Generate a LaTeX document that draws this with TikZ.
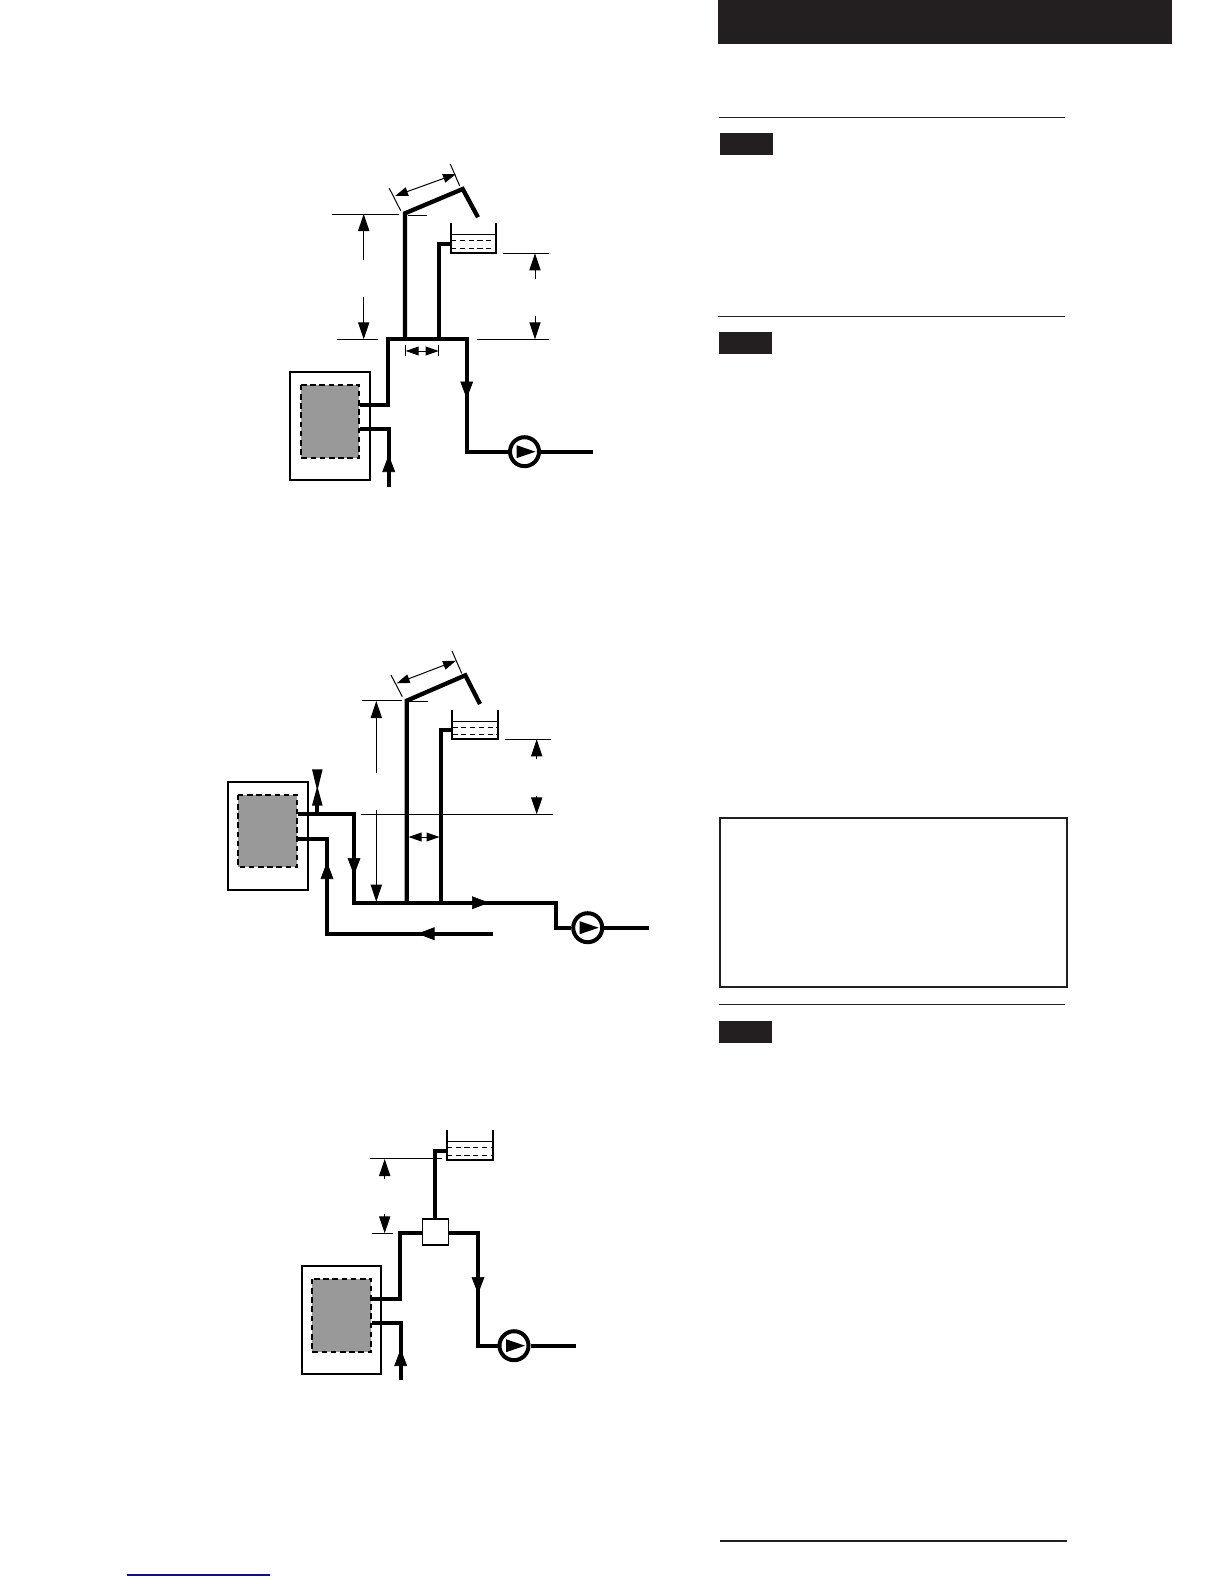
\documentclass[tikz,border=0pt]{standalone}
\usetikzlibrary{arrows.meta,calc}
\definecolor{ink}{HTML}{231F20}
\definecolor{coregray}{HTML}{999999}
\definecolor{linkblue}{HTML}{10107F}
\tikzset{
  pipe/.style={line width=2.15pt,draw=black},
  fine/.style={line width=0.5pt,draw=black},
  dimtip/.style={line width=0.5pt,draw=black,-{Triangle[length=8.5pt,width=5.6pt]}},
  dimboth/.style={line width=0.5pt,draw=black,{Triangle[length=6.5pt,width=4.4pt]}-{Triangle[length=6.5pt,width=4.4pt]}},
  flow/.style={line width=0.3pt,draw=black,-{Triangle[length=8.5pt,width=6.4pt]}},
  casing/.style={line width=0.9pt,draw=black},
  core/.style={line width=0.9pt,draw=black,dash pattern=on 2.8pt off 1.8pt,fill=coregray},
  tank/.style={line width=0.9pt,draw=black},
  water/.style={line width=0.4pt,draw=black},
  waterdash/.style={line width=0.4pt,draw=black,dash pattern=on 2.6pt off 1.8pt},
  pumpbody/.style={circle,draw=black,line width=2pt,fill=white,minimum size=14.5pt,inner sep=0pt},
  rulebar/.style={line width=0.6pt,draw=ink},
}
\newcommand{\pumptri}[1]{\fill[black] ($(#1)+(-8,-6.5)$) -- ($(#1)+(11,0)$) -- ($(#1)+(-8,6.5)$) -- cycle;}
\begin{document}
\begin{tikzpicture}[x=0.5pt,y=-0.5pt]
\useasboundingbox (0,0) rectangle (1224,1584);

% ---------- right column ----------
\fill[ink] (718,0) rectangle (1172,44);
\draw[rulebar] (719,117.3) -- (1065,117.3);
\fill[ink] (720,133) rectangle (773,155);
\draw[rulebar] (718,316.3) -- (1065,316.3);
\fill[ink] (719,332) rectangle (772,354);
\draw[line width=1.1pt,draw=ink] (720,818) rectangle (1067,987);
\draw[rulebar] (719,1004.3) -- (1065,1004.3);
\fill[ink] (719,1021) rectangle (772,1043);
\draw[rulebar] (720,1541) -- (1067,1541);
\draw[line width=0.7pt,draw=linkblue] (127,1575) -- (270,1575);

% ---------- diagram 1 ----------
\draw[casing] (290,371.7) rectangle (370,480);
\draw[core] (301,384.7) rectangle (359.3,458);
\node[pumpbody] (pumpA) at (524.5,451.7) {};
\pumptri{pumpA}
\coordinate (a1) at (360,405);
\coordinate (a2) at (360,429.3);
\draw[pipe] (a1) -- (387.7,405) -- (387.7,339.3) -- (466.7,339.3) -- (466.7,451.7) -- (pumpA.west);
\draw[pipe] (pumpA.east) -- (592.7,451.7);
\draw[pipe] (a2) -- (388.7,429.3) -- (388.7,486.7);
\draw[flow] (388.7,471) -- (388.7,455);
\draw[flow] (466.7,382) -- (466.7,398.5);
\draw[pipe] (405,339.3) -- (405,213.3) -- (462.7,189) -- (478,217.3);
\draw[pipe] (438.7,339.3) -- (438.7,244) -- (451,244);
\draw[tank] (451,223.3) -- (451,253) -- (496.3,253) -- (496.3,223.3);
\draw[water] (451,234.3) -- (496.3,234.3);
\draw[waterdash] (451,240.7) -- (496.3,240.7);
\draw[waterdash] (451,248.7) -- (496.3,248.7);
\draw[fine] (332,214) -- (399.3,214);
\draw[fine] (408,215.3) -- (426.7,215.3);
\draw[dimtip] (363.7,260) -- (363.7,214);
\draw[dimtip] (363.7,296.7) -- (363.7,339.3);
\draw[fine] (337,339.3) -- (377.7,339.3);
\draw[fine] (477,339.3) -- (548.7,339.3);
\draw[fine] (503,253.3) -- (548.7,253.3);
\draw[dimtip] (535,279.3) -- (535,253.3);
\draw[dimtip] (535,316) -- (535,339.3);
\draw[dimboth] (405.7,351) -- (438.7,351);
\draw[fine] (405.7,345) -- (405.7,356);
\draw[fine] (438.7,345) -- (438.7,356);
\draw[dimboth] (395,196) -- (456,174);
\draw[fine] (389.3,188.3) -- (400.7,210.7);
\draw[fine] (450.3,164) -- (459.7,186);

% ---------- diagram 2 ----------
\draw[casing] (227.7,781.7) rectangle (308.3,890);
\draw[core] (238.3,794.7) rectangle (297.3,867);
\node[pumpbody] (pumpB) at (587.7,927.7) {};
\pumptri{pumpB}
\draw[pipe] (298.3,814.3) -- (354,814.3) -- (354,902.7) -- (555.7,902.7) -- (555.7,927.7) -- (pumpB.west);
\draw[pipe] (pumpB.east) -- (649.3,927.7);
\draw[pipe] (297.3,839) -- (327,839) -- (327,933.7) -- (492.7,933.7);
\draw[flow] (354,859) -- (354,875);
\draw[flow] (472,902.7) -- (489,902.7);
\draw[flow] (327,878) -- (327,862);
\draw[flow] (434,933.7) -- (417.5,933.7);
\draw[pipe] (317.3,814.3) -- (317.3,800);
\fill[black] (312,769.3) -- (322.6,769.3) -- (317.3,791) -- cycle;
\fill[black] (312,805.5) -- (322.6,805.5) -- (317.3,786) -- cycle;
\draw[pipe] (406.7,902.7) -- (406.7,700.7) -- (465.3,675.3) -- (480,704);
\draw[pipe] (440.7,902.7) -- (440.7,730) -- (452.3,730);
\draw[tank] (452.3,710.3) -- (452.3,739) -- (498,739) -- (498,710.3);
\draw[water] (452.3,721.3) -- (498,721.3);
\draw[waterdash] (452.3,727.3) -- (498,727.3);
\draw[waterdash] (452.3,734.3) -- (498,734.3);
\draw[fine] (362,700.3) -- (401.7,700.3);
\draw[fine] (409,701) -- (427.7,701);
\draw[fine] (361,814.3) -- (553,814.3);
\draw[fine] (505.3,739) -- (550.7,739);
\draw[dimtip] (376.3,772.7) -- (376.3,701);
\draw[dimtip] (376.3,810) -- (376.3,901.7);
\draw[dimtip] (536.7,759) -- (536.7,739.3);
\draw[dimtip] (536.7,796) -- (536.7,814.3);
\draw[dimboth] (408.5,837) -- (439.5,837);
\draw[dimboth] (396.7,683.3) -- (456,660.7);
\draw[fine] (391,675) -- (402.3,696.7);
\draw[fine] (452,651) -- (461.7,673.3);

% ---------- diagram 3 ----------
\draw[casing] (302,1265.7) rectangle (381.3,1373.7);
\draw[core] (312,1278.7) rectangle (371.3,1352);
\node[pumpbody] (pumpC) at (514,1345.7) {};
\pumptri{pumpC}
\node[draw=black,line width=0.9pt,fill=white,minimum size=13pt,inner sep=0pt] (sep) at (435.5,1232) {};
\draw[pipe] (371.7,1299) -- (399.7,1299) -- (399.7,1233) -- (sep.west |- 0,1233);
\draw[pipe] (sep.east |- 0,1233) -- (478,1233) -- (478,1345.7) -- (pumpC.west);
\draw[pipe] (pumpC.east) -- (576,1345.7);
\draw[pipe] (371.7,1322.7) -- (400.7,1322.7) -- (400.7,1380);
\draw[flow] (400.7,1365) -- (400.7,1349);
\draw[flow] (478,1277) -- (478,1294);
\draw[pipe] (sep.north -| 435.3,0) -- (435.3,1150.7) -- (446.7,1150.7);
\draw[tank] (446.7,1130.3) -- (446.7,1160) -- (493,1160) -- (493,1130.3);
\draw[water] (446.7,1141.7) -- (493,1141.7);
\draw[waterdash] (446.7,1147.3) -- (493,1147.3);
\draw[waterdash] (446.7,1155.3) -- (493,1155.3);
\draw[fine] (370,1158.3) -- (441.7,1158.3);
\draw[fine] (372.3,1233.3) -- (392.7,1233.3);
\draw[dimtip] (384.7,1179.3) -- (384.7,1159);
\draw[dimtip] (384.7,1214) -- (384.7,1233.3);
\end{tikzpicture}
\end{document}
